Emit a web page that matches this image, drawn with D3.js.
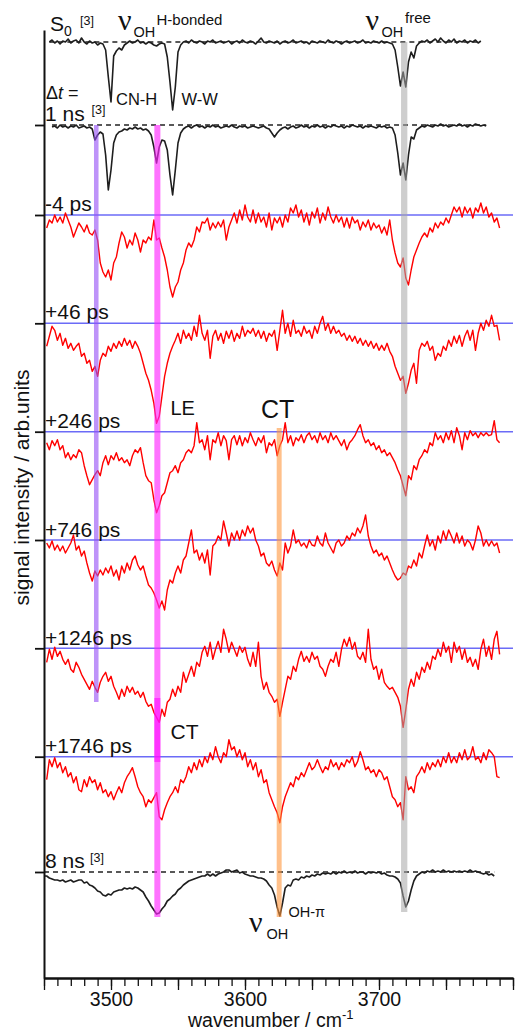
<!DOCTYPE html>
<html>
<head>
<meta charset="utf-8">
<script src="https://cdn.jsdelivr.net/npm/d3@7"></script>
<style>
html,body{margin:0;padding:0;background:#fff;}
svg{display:block;}
text{font-family:"Liberation Sans",Arial,sans-serif;fill:#111;}
.nu{font-family:"Liberation Serif","Times New Roman",serif;}
</style>
</head>
<body>
<svg id="chart" width="516" height="1030"></svg>
<script>
// ---------------- DATA ----------------
const traceNames = ["S0", "1 ns", "-4 ps", "+46 ps", "+246 ps", "+746 ps", "+1246 ps", "+1746 ps", "8 ns"];
const traceKinds = ["ref", "ref", "td", "td", "td", "td", "td", "td", "ref"];
const traceOffsets = [0, -83, -173, -281.3, -389.7, -498, -606.3, -714.7, -830];
const traceStart = [3454, 3456, 3452, 3452, 3452, 3452, 3452, 3452, 3450];
const wnStep = 2;

const sigS0 = [0,2,-1,1,-2,1,0,3,-1,1,2,-1,4,0,-2,1,-1,0,-3,-1,-2,-8,-35,-60,-14,-9,-6,-8,-3,-1,1,-1,0,2,-1,0,-2,0,-1,-3,-4,-2,-1,-2,-15,-40,-68,-45,-10,-3,0,1,-1,2,0,-1,1,0,-2,1,0,2,-1,0,1,-1,0,1,-2,0,1,-1,2,0,-1,1,0,-2,1,4,0,-1,1,0,-1,1,-2,0,1,-1,0,2,-1,0,1,-1,0,-2,1,0,-1,1,0,-1,2,0,-1,1,0,-2,0,1,-1,0,1,-1,0,2,-1,0,-1,1,0,-1,1,-1,0,-1,-2,-8,-25,-44,-30,-45,-20,-10,-16,-4,-1,1,0,2,-1,1,3,0,4,1,-1,2,0,3,-1,1,0,2,-1,1,0,2,-1,1];
const sig1ns = [-2,-1,-3,0,-2,-1,-3,-1,-2,0,-3,-2,-1,-3,-2,-4,-15,-10,-7,-9,-30,-65,-45,-18,-10,-7,-6,-4,-5,-3,-4,-2,-4,-3,-5,-4,-6,-10,-22,-38,-22,-15,-16,-25,-50,-70,-45,-18,-8,-4,-2,-1,-3,-1,0,-2,-1,-3,-1,-2,0,-2,-1,-3,-2,-1,-2,0,-2,-3,-1,-2,-1,-3,-2,-1,-2,-3,-2,-1,-3,-4,-8,-12,-8,-5,-3,-2,-4,-2,-1,-3,-2,0,-2,-1,-3,-1,-2,0,-2,-1,-3,-1,-2,0,-1,-2,-1,-3,-1,-2,0,-1,-2,-1,-3,-1,-2,-1,-2,-3,-1,-2,-1,-3,-2,-3,-10,-28,-50,-38,-55,-30,-12,-14,-5,-3,-1,-2,0,-1,-2,0,-1,1,-1,0,-2,-1,0,-1,1,-1,0,-2,0,-1,1,0,-1,0,-1];
const sigM4 = [-13,-5,-8,0,-7,-2,-8,2,-5,-12,-22,-15,-8,-12,-17,-10,-18,-20,-15,-25,-48,-57,-62,-55,-65,-48,-42,-28,-17,-22,-33,-25,-30,-18,-25,-37,-25,-28,-22,-25,-5,-25,-23,-33,-42,-55,-72,-82,-72,-67,-55,-48,-35,-28,-32,-25,-12,-17,-7,-8,-3,-15,-8,-13,-7,-12,-5,-25,-12,-5,2,-8,5,-5,10,-2,-7,5,-8,2,-7,-2,-12,2,-15,-3,-8,-2,-12,0,-7,7,2,10,-2,5,-7,2,-10,3,-3,7,-8,2,-5,8,-2,-8,0,-7,-2,-12,-3,-13,-2,-8,-5,-15,-7,-12,-5,-15,-8,-13,-10,-18,-12,-20,-5,-25,-38,-48,-52,-43,-63,-70,-55,-42,-35,-28,-22,-18,-22,-13,-17,-8,-13,-7,-10,-3,-8,0,8,3,8,-2,8,2,7,-3,7,3,12,2,8,-2,2,-7,-3,-13];
const sigP46 = [-23,-13,-3,-7,-17,-10,-22,-15,-25,-20,-27,-23,-20,-33,-30,-40,-37,-48,-43,-53,-37,-30,-33,-23,-28,-20,-25,-18,-23,-15,-22,-17,-25,-18,-23,-30,-40,-50,-57,-67,-80,-100,-93,-73,-53,-40,-30,-23,-17,-10,-20,-7,-15,-10,-17,-3,-13,8,-10,-17,-7,-35,-13,-7,-17,-10,-20,-8,-15,-7,-18,-10,-15,-3,-13,-7,-10,-5,-13,-7,-15,-8,-18,-10,-13,-7,-27,-7,13,-10,0,-13,3,-10,-7,-13,-3,-10,-7,-15,-3,-10,0,7,-7,0,-10,-3,-10,-7,-13,-10,-17,-12,-18,-13,-20,-15,-22,-17,-23,-18,-25,-20,-27,-22,-27,-20,-28,-33,-43,-50,-57,-53,-70,-60,-47,-40,-60,-27,-20,-23,-18,-27,-23,-37,-30,-33,-23,-27,-17,-23,-13,-20,-12,-23,-13,-7,-17,-7,-27,-10,0,-7,3,-3,8,-3,-2,-17];
const sigP246 = [-11,-18,-9,-14,-8,-18,-14,-26,-21,-28,-23,-26,-18,-21,-34,-44,-53,-48,-43,-39,-44,-31,-24,-33,-24,-28,-21,-29,-26,-31,-28,-34,-24,-18,-21,-16,-31,-44,-49,-51,-68,-81,-74,-64,-61,-51,-41,-39,-34,-41,-31,-28,-21,-18,-21,-14,9,-11,-8,-18,-4,-28,-8,-11,-1,-14,-4,-9,-28,-8,-4,-13,-4,-14,-6,-11,-1,-8,-14,-6,-11,-4,-21,-11,-14,-8,-24,-14,-8,9,-11,-4,-14,-6,-9,-3,-11,-4,-1,-8,-4,-11,-1,-8,-4,-11,-1,-8,-4,-9,-14,-8,-18,-11,-8,-4,2,7,-4,-11,-8,-14,-11,-18,-14,-21,-18,-24,-21,-26,-31,-38,-44,-54,-64,-44,-48,-34,-38,-28,-24,-18,-21,-11,-14,-1,-8,-4,-11,-1,-8,1,-11,4,-4,-18,-1,-8,1,-4,-1,-6,-1,-4,-1,-4,-3,11,-8,-11];
const sigP746 = [-3,-8,-1,-10,-5,-11,-6,-13,-8,-3,5,-10,-6,-16,-11,-23,-33,-41,-31,-36,-30,-35,-28,-33,-26,-36,-30,-40,-26,-33,-23,-30,-20,-16,-25,-30,-26,-36,-45,-48,-53,-60,-68,-61,-70,-50,-40,-43,-33,-26,-33,-20,-16,-3,10,-13,-10,-20,-13,-23,-10,-35,-6,-3,4,0,19,7,-6,7,0,9,0,10,4,14,7,12,0,-6,-16,-13,-23,-26,-21,-30,-36,-23,-30,-3,-13,-6,10,-3,0,-6,-3,-8,0,-5,-6,4,-3,-6,7,-3,-8,-13,-3,0,-6,-3,4,0,7,4,12,7,14,25,4,-6,-13,-10,-16,-13,-20,-16,-23,-30,-36,-40,-38,-33,-35,-26,-28,-20,-26,-13,-18,-6,5,-6,0,-10,4,-3,9,0,10,4,-3,7,-3,4,-6,0,-3,-10,0,14,7,-6,0,-6,-1,-6,-3,-13];
const sigP1246 = [-14,-1,-11,1,-8,-3,-11,-16,-11,-21,-24,-14,-19,-26,-31,-36,-41,-33,-39,-44,-34,-28,-24,-33,-28,-38,-44,-51,-41,-48,-38,-44,-39,-46,-43,-49,-44,-53,-58,-56,-64,-69,-74,-61,-68,-54,-51,-41,-48,-38,-44,-24,-34,-26,-18,-28,-14,-18,-4,2,-8,6,-11,-1,7,-4,19,9,-4,6,-1,-8,2,-4,1,-11,-18,-4,-18,6,-28,-41,-34,-44,-48,-54,-51,-68,-54,-41,-28,-31,-18,-23,-11,-3,-13,-8,-14,-4,-11,-8,-18,-21,-28,-18,-11,-14,-4,-18,-1,9,2,11,-1,6,-8,-11,-4,-14,19,-11,-21,-18,-31,-21,-34,-38,-41,-39,-44,-49,-58,-79,-61,-41,-31,-38,-24,-31,-19,-24,-14,-21,-8,-11,-1,-8,6,-4,2,-14,6,-4,2,-11,-1,-14,-9,-18,-11,-21,-1,9,-8,2,-11,9,17,-6];
const sigP1746 = [-23,-3,-10,-1,-11,-6,-16,-10,-20,-16,-26,-20,-33,-35,-23,-30,-20,-26,-23,-33,-26,-36,-33,-40,-35,-43,-36,-30,-36,-26,-20,-16,-11,-20,-30,-36,-40,-50,-43,-46,-41,-36,-60,-63,-53,-46,-40,-36,-30,-36,-23,-26,-20,-10,-16,-6,-13,-3,-10,0,-6,4,-3,10,0,-6,4,0,17,7,10,0,7,-3,4,-10,-3,-13,-6,-20,-13,-26,-23,-36,-43,-50,-56,-66,-50,-40,-33,-26,-30,-20,-23,-16,-20,-13,-6,-13,-10,-3,-10,-16,-10,-13,-3,-10,-6,-13,-6,-10,-3,-6,0,-10,-5,5,-3,-13,-10,-16,-13,-20,-13,-16,-23,-20,-30,-40,-43,-50,-46,-63,-20,-33,-30,-36,-20,-16,-10,-16,-6,-13,-6,-10,-3,-10,0,-6,4,-6,0,-6,4,-3,7,-3,0,10,-3,0,-6,4,-3,7,4,0,-20,-21];
const sig8ns = [-4,-4,-6,-7,-8,-8,-9,-8,-10,-9,-8,-10,-9,-8,-8,-11,-10,-13,-14,-16,-19,-20,-23,-24,-22,-23,-20,-19,-18,-18,-16,-17,-16,-17,-15,-16,-18,-20,-25,-29,-34,-38,-42,-41,-37,-34,-29,-27,-24,-22,-18,-16,-13,-11,-9,-8,-7,-6,-5,-4,-4,-2,-4,-2,-4,-2,-1,0,2,2,0,1,2,-1,0,-2,-3,-4,-4,-5,-6,-6,-7,-9,-13,-16,-23,-35,-44,-31,-16,-13,-14,-8,-7,-8,-5,-6,-4,-5,-3,-4,-2,-3,-1,-2,-1,-2,0,-2,0,-1,1,-1,0,-1,1,-1,0,0,-2,0,-1,0,-1,0,-2,-1,-3,-4,-4,-5,-7,-11,-24,-35,-29,-18,-9,-4,-2,0,-1,1,0,2,0,1,0,2,0,1,0,1,0,1,0,1,0,2,0,1,0,-1,-2,-1,-3,-2,-4];
const traceSignals = [sigS0, sig1ns, sigM4, sigP46, sigP246, sigP746, sigP1246, sigP1746, sig8ns];

// marker bands: centre wavenumber, width (cm-1), from / to signal level
const bandCenters = [3489, 3534.6, 3534.6, 3625.5, 3718.8];
const bandWidths  = [3.4, 4.5, 4.5, 3.7, 4.7];
const bandTop     = [-83, -83, -656, -386, 0];
const bandBottom  = [-660, -875, -720, -875, -870];
const bandColors  = ["rgba(150,80,245,0.62)", "rgba(255,40,255,0.65)", "rgba(255,0,255,0.55)", "rgba(255,150,60,0.6)", "rgba(165,165,165,0.55)"];

const xTickLabels = [3500, 3600, 3700];

// ---------------- DRAW ----------------
const svg = d3.select("#chart");
const x = d3.scaleLinear().domain([3450, 3800]).range([44, 513]);
const y = d3.scaleLinear().domain([12, -936]).range([30, 978]);

// baselines: blue for time-resolved traces, dashed for reference spectra
traceOffsets.forEach((off, i) => {
  if (traceKinds[i] === "td") {
    svg.append("line").attr("x1", x(3450)).attr("x2", x(3800))
      .attr("y1", y(off)).attr("y2", y(off))
      .attr("stroke", "#6b6bf7").attr("stroke-width", 1.6);
  } else {
    const sig = traceSignals[i];
    const x0 = i === 8 ? 3450 : traceStart[i];
    const x1 = traceStart[i] + (sig.length - 1) * wnStep;
    svg.append("line").attr("x1", x(x0)).attr("x2", x(x1))
      .attr("y1", y(off)).attr("y2", y(off))
      .attr("stroke", "#222").attr("stroke-width", 1.3)
      .attr("stroke-dasharray", "5,4");
  }
});

// traces
const line = d3.line().x(d => x(d[0])).y(d => y(d[1]));
traceSignals.forEach((sig, i) => {
  const pts = sig.map((v, k) => [traceStart[i] + k * wnStep, traceOffsets[i] + v]);
  svg.append("path").datum(pts).attr("d", line).attr("fill", "none")
    .attr("stroke", traceKinds[i] === "td" ? "#ff0000" : "#1e1e1e")
    .attr("stroke-width", traceKinds[i] === "td" ? 1.4 : 1.6)
    .attr("stroke-linejoin", "round");
});

// bands
bandCenters.forEach((c, i) => {
  svg.append("rect")
    .attr("x", x(c - bandWidths[i] / 2)).attr("width", x(c + bandWidths[i] / 2) - x(c - bandWidths[i] / 2))
    .attr("y", y(bandTop[i])).attr("height", y(bandBottom[i]) - y(bandTop[i]))
    .attr("fill", bandColors[i]);
});

// axes
const minor = d3.axisBottom(x).tickValues(d3.range(3450, 3801, 10)).tickSize(8).tickFormat("").tickSizeOuter(0);
const major = d3.axisBottom(x).tickValues(d3.range(3450, 3801, 50)).tickSize(12)
  .tickFormat(d => xTickLabels.includes(d) ? d : "").tickSizeOuter(0);
const gMinor = svg.append("g").attr("transform", `translate(0,${y(-936)})`).call(minor);
const gMajor = svg.append("g").attr("transform", `translate(0,${y(-936)})`).call(major);
[gMinor, gMajor].forEach(g => {
  g.select(".domain").attr("stroke", "#111").attr("stroke-width", 2);
  g.selectAll(".tick line").attr("stroke", "#111").attr("stroke-width", 1.3);
});
gMajor.selectAll(".tick text").attr("font-size", 19.5).attr("font-family", "Liberation Sans, Arial, sans-serif")
  .attr("fill", "#111").attr("dy", "0").attr("y", 27.5);

const left = d3.axisLeft(y).tickValues(traceOffsets.slice(1)).tickSize(9).tickFormat("").tickSizeOuter(0);
const gLeft = svg.append("g").attr("transform", `translate(${x(3450)},0)`).call(left);
gLeft.select(".domain").attr("stroke", "#111").attr("stroke-width", 2);
gLeft.selectAll(".tick line").attr("stroke", "#111").attr("stroke-width", 1.8);

// ---------------- TEXT ----------------
function txt(s, px, py, size, cls) {
  const t = svg.append("text").attr("x", px).attr("y", py).attr("font-size", size).text(s);
  if (cls) t.attr("class", cls);
  return t;
}
// S0 [3]
txt("S", 50, 30.5, 21);
txt("0", 64, 36, 14);
txt("[3]", 80, 25, 12.5);
// nu OH H-bonded
txt("ν", 118, 30, 30, "nu");
txt("OH", 133.5, 37, 14.5);
txt("H-bonded", 156.5, 25, 15);
// nu OH free
txt("ν", 365.5, 30, 30, "nu");
txt("OH", 381.5, 37, 14.5);
txt("free", 405, 23, 15);
// Delta t =
const dt = svg.append("text").attr("x", 46).attr("y", 98.5).attr("font-size", 18);
dt.append("tspan").text("Δ");
dt.append("tspan").attr("font-style", "italic").text("t");
dt.append("tspan").text(" =");
// CN-H, W-W
txt("CN-H", 116, 105, 16.5);
txt("W-W", 181.5, 105, 16.5);
// time labels
const labelBase = [null, 120.5, 211, 319.3, 428, 536.5, 645, 753, 867.5];
traceNames.forEach((n, i) => {
  if (i === 0) return;
  txt(n, 45, labelBase[i], 21);
});
txt("[3]", 91.5, 114, 12.5);
txt("[3]", 90, 862, 12.5);
// LE / CT
txt("LE", 170.5, 415, 20);
txt("CT", 261, 418, 25);
txt("CT", 170.5, 738.5, 21);
// nu OH OH-pi
txt("ν", 249, 932, 30, "nu");
txt("OH", 266.5, 939, 14.5);
txt("OH-π", 288.5, 917, 14.5);
// axis titles
const xl = svg.append("text").attr("x", 188).attr("y", 1027).attr("font-size", 19.5);
xl.append("tspan").text("wavenumber / cm");
xl.append("tspan").attr("font-size", 13).attr("dy", -8).text("-1");
svg.append("text").attr("transform", "translate(29,487.5) rotate(-90)")
  .attr("text-anchor", "middle").attr("font-size", 21).text("signal intensity / arb.units");
</script>
</body>
</html>
